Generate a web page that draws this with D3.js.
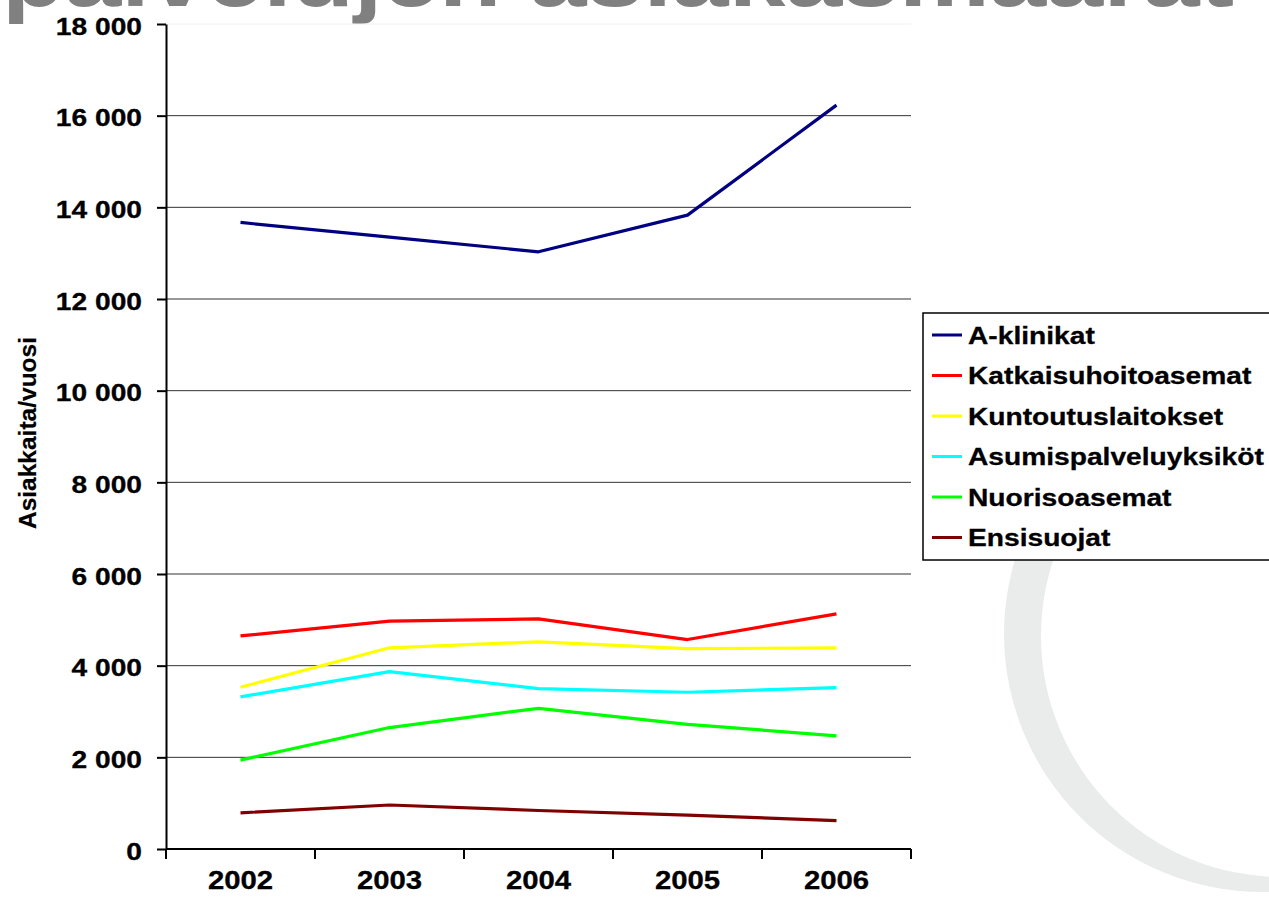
<!DOCTYPE html>
<html>
<head>
<meta charset="utf-8">
<script src="https://d3js.org/d3.v7.min.js"></script>
<style>
  body { margin: 0; background: #fff; }
  svg text { font-family: "Liberation Sans", Arial, sans-serif; font-weight: bold; }
</style>
</head>
<body>
<svg></svg>
<script>
// data
var years = ["2002", "2003", "2004", "2005", "2006"];
var seriesNames = ["A-klinikat", "Katkaisuhoitoasemat", "Kuntoutuslaitokset",
                   "Asumispalveluyksiköt", "Nuorisoasemat", "Ensisuojat"];
var seriesColors = ["#000080", "#ff0000", "#ffff00", "#00ffff", "#00ff00", "#800000"];
var aKlinikat = [13670, 13350, 13030, 13830, 16230];
var katkaisuhoitoasemat = [4650, 4970, 5020, 4570, 5130];
var kuntoutuslaitokset = [3530, 4390, 4520, 4370, 4390];
var asumispalveluyksikot = [3320, 3870, 3500, 3420, 3520];
var nuorisoasemat = [1940, 2650, 3070, 2720, 2470];
var ensisuojat = [790, 960, 840, 740, 620];
var yTicks = [0, 2000, 4000, 6000, 8000, 10000, 12000, 14000, 16000, 18000];

var series = [aKlinikat, katkaisuhoitoasemat, kuntoutuslaitokset,
              asumispalveluyksikot, nuorisoasemat, ensisuojat];

// dimensions
var W = 1269, H = 905;
var margin = {top: 24, right: 358, bottom: 56, left: 166},
    width = W - margin.left - margin.right,
    height = H - margin.top - margin.bottom;
var sx = 1.15; // the picture is a bit wider than tall

var root = d3.select("svg").attr("width", W).attr("height", H);

// light grey crescent in the background (slide logo)
var crescent = d3.path();
crescent.moveTo(1262 + 258, 634);
crescent.arc(1262, 634, 258, 0, 2 * Math.PI);
crescent.moveTo(1282 + 241, 636);
crescent.arc(1282, 636, 241, 0, 2 * Math.PI);
root.append("path")
  .attr("d", crescent.toString())
  .attr("fill", "#eaecec")
  .attr("fill-rule", "evenodd");

// slide title, mostly cut off at the top
root.append("text")
  .attr("x", 2)
  .attr("y", 6)
  .attr("font-size", 86)
  .attr("textLength", 1232)
  .attr("lengthAdjust", "spacingAndGlyphs")
  .attr("fill", "#808080")
  .text("palvelujen asiakasmäärät");

var svg = root.append("g")
  .attr("transform", "translate(" + margin.left + "," + margin.top + ")");

// scales
var x = d3.scaleBand().domain(years).range([0, width]);
var y = d3.scaleLinear().domain([0, 18000]).range([height, 0]);

var fi = d3.formatLocale({decimal: ",", thousands: " ", grouping: [3], currency: ["", " €"]});
var fmt = fi.format(",");

// gridlines
svg.append("g")
  .selectAll("line")
  .data(yTicks.filter(function(d) { return d > 0; }))
  .enter()
  .append("line")
  .attr("x1", 0)
  .attr("x2", width)
  .attr("y1", function(d) { return y(d); })
  .attr("y2", function(d) { return y(d); })
  .attr("stroke", function(d) { return d == 18000 ? "#f0f0f0" : "#333"; })
  .attr("stroke-width", 1);

// y axis
var yAxis = svg.append("g")
  .call(d3.axisLeft(y).tickValues(yTicks).tickSize(9).tickSizeOuter(0).tickFormat(fmt));
yAxis.select(".domain").attr("stroke", "#000").attr("stroke-width", 2);
yAxis.selectAll(".tick line").attr("stroke", "#000").attr("stroke-width", 2);
yAxis.selectAll(".tick text")
  .attr("x", null).attr("dy", null)
  .attr("transform", "translate(-24,10) scale(" + sx + ",1)")
  .attr("text-anchor", "end")
  .attr("font-size", 24.5)
  .attr("fill", "#000")
  .attr("stroke", "#000")
  .attr("stroke-width", 0.3);

// x axis: ticks on the category borders, labels in the middle
var xAxis = svg.append("g")
  .attr("transform", "translate(0," + height + ")");
xAxis.append("line")
  .attr("x1", 0).attr("x2", width)
  .attr("stroke", "#000").attr("stroke-width", 2);
xAxis.selectAll(".xtick")
  .data(years.map(function(d) { return x(d); }).concat([x(years[years.length - 1]) + x.bandwidth()]))
  .enter()
  .append("line")
  .attr("class", "xtick")
  .attr("x1", function(d) { return d; })
  .attr("x2", function(d) { return d; })
  .attr("y1", 0).attr("y2", 10)
  .attr("stroke", "#000").attr("stroke-width", 2);
xAxis.selectAll(".xlabel")
  .data(years)
  .enter()
  .append("text")
  .attr("class", "xlabel")
  .attr("transform", function(d) {
    return "translate(" + (x(d) + x.bandwidth() / 2) + ",40) scale(" + sx + ",1)";
  })
  .attr("text-anchor", "middle")
  .attr("font-size", 25.5)
  .attr("stroke", "#000")
  .attr("stroke-width", 0.3)
  .text(function(d) { return d; });

// y axis title
root.append("text")
  .attr("transform", "translate(36,433) rotate(-90)")
  .attr("text-anchor", "middle")
  .attr("font-size", 24.5)
  .attr("stroke", "#000")
  .attr("stroke-width", 0.2)
  .text("Asiakkaita/vuosi");

// lines
var line = d3.line()
  .x(function(d, i) { return x(years[i]) + x.bandwidth() / 2; })
  .y(function(d) { return y(d); });

svg.append("g")
  .selectAll("path")
  .data(series)
  .enter()
  .append("path")
  .attr("d", line)
  .attr("fill", "none")
  .attr("stroke", function(d, i) { return seriesColors[i]; })
  .attr("stroke-width", 3.2)
  .attr("stroke-linejoin", "round");

// legend
var legend = root.append("g")
  .attr("transform", "translate(923,313)");
legend.append("rect")
  .attr("width", 400)
  .attr("height", 247)
  .attr("fill", "#fff")
  .attr("stroke", "#000")
  .attr("stroke-width", 1.5);
var item = legend.selectAll(".item")
  .data(seriesNames)
  .enter()
  .append("g")
  .attr("class", "item")
  .attr("transform", function(d, i) { return "translate(0," + (22 + i * 40.5) + ")"; });
item.append("line")
  .attr("x1", 9).attr("x2", 39)
  .attr("stroke", function(d, i) { return seriesColors[i]; })
  .attr("stroke-width", 3);
item.append("text")
  .attr("transform", "translate(45,8.5) scale(" + sx + ",1)")
  .attr("font-size", 24.5)
  .attr("stroke", "#000")
  .attr("stroke-width", 0.3)
  .text(function(d) { return d; });
</script>
</body>
</html>
